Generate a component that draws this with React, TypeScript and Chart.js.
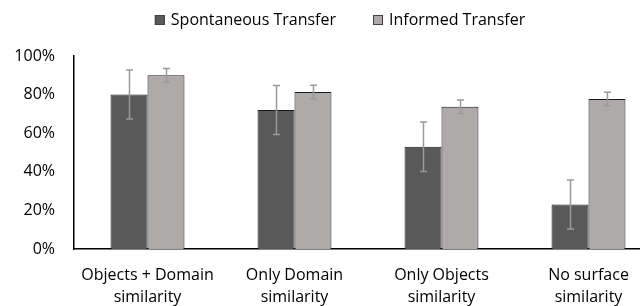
import React, { useEffect, useRef } from 'react';
import { Chart, registerables } from 'chart.js';

Chart.register(...registerables);

const categories: string[][] = [
  ['Objects + Domain', 'similarity'],
  ['Only Domain', 'similarity'],
  ['Only Objects', 'similarity'],
  ['No surface', 'similarity'],
];
const seriesNames = ['Spontaneous Transfer', 'Informed Transfer'];
const spontaneous = [80, 72, 53, 23];
const informed = [90, 81.3, 73.7, 77.7];
const spontaneousErr = [12.7, 12.7, 12.8, 12.7];
const informedErr = [3.5, 3.5, 3.5, 3.5];
const yMin = 0;
const yMax = 100;
const yStep = 20;

const FONT = '"Open Sans", sans-serif';
const DARK = '#595959';
const LIGHT = '#AEAAAA';

const errorBarPlugin = {
  id: 'errorBars',
  afterDatasetsDraw(chart: any) {
    const ctx = chart.ctx;
    const yScale = chart.scales.y;
    chart.data.datasets.forEach((ds: any, i: number) => {
      const meta = chart.getDatasetMeta(i);
      meta.data.forEach((bar: any, j: number) => {
        const v = ds.data[j];
        const e = ds.errors[j];
        const x = Math.round(bar.x) + 0.5;
        const yTop = yScale.getPixelForValue(v + e);
        const yBot = yScale.getPixelForValue(v - e);
        ctx.save();
        ctx.strokeStyle = '#9a9a9a';
        ctx.lineWidth = 1.5;
        ctx.beginPath();
        ctx.moveTo(x, yTop);
        ctx.lineTo(x, yBot);
        ctx.moveTo(x - 3.5, yTop);
        ctx.lineTo(x + 3.5, yTop);
        ctx.moveTo(x - 3.5, yBot);
        ctx.lineTo(x + 3.5, yBot);
        ctx.stroke();
        ctx.restore();
      });
    });
  },
};

const legendPlugin = {
  id: 'customLegend',
  afterDraw(chart: any) {
    const ctx = chart.ctx;
    ctx.save();
    ctx.font = '16px ' + FONT;
    ctx.textBaseline = 'middle';
    ctx.textAlign = 'left';
    const box = 10;
    const gapText = 6;
    const gapItem = 37;
    const items = chart.data.datasets.map((ds: any) => ({
      label: ds.label,
      fill: ds.backgroundColor,
      w: ctx.measureText(ds.label).width,
    }));
    const total = items.reduce((s: number, it: any) => s + box + gapText + it.w, 0) + gapItem * (items.length - 1);
    let x = chart.width / 2 - total / 2;
    const yc = 20;
    items.forEach((it: any) => {
      ctx.fillStyle = it.fill;
      ctx.fillRect(x, yc - box / 2, box, box);
      ctx.strokeStyle = '#404040';
      ctx.lineWidth = 1;
      ctx.strokeRect(x + 0.5, yc - box / 2 + 0.5, box - 1, box - 1);
      ctx.fillStyle = '#000';
      ctx.fillText(it.label, x + box + gapText, yc);
      x += box + gapText + it.w + gapItem;
    });
    ctx.restore();
  },
};

export default function App() {
  const ref = useRef<HTMLCanvasElement | null>(null);
  useEffect(() => {
    if (!ref.current) return;
    const chart = new Chart(ref.current, {
      type: 'bar',
      data: {
        labels: categories,
        datasets: [
          {
            label: seriesNames[0],
            data: spontaneous,
            errors: spontaneousErr,
            backgroundColor: DARK,
            borderColor: '#1a1a1a',
            borderWidth: 1,
          } as any,
          {
            label: seriesNames[1],
            data: informed,
            errors: informedErr,
            backgroundColor: LIGHT,
            borderColor: '#1a1a1a',
            borderWidth: 1,
          } as any,
        ],
      },
      options: {
        responsive: false,
        animation: false,
        devicePixelRatio: 1,
        layout: { padding: { left: 8, right: 18, top: 56, bottom: 0 } },
        datasets: { bar: { barPercentage: 1, categoryPercentage: 0.503 } },
        plugins: {
          legend: { display: false },
          tooltip: { enabled: false },
        },
        scales: {
          x: {
            grid: { display: false, drawTicks: false },
            border: { display: true, color: '#000', width: 1.5 },
            ticks: {
              color: '#000',
              font: { family: FONT, size: 16, lineHeight: 1.375 },
              padding: 15,
              maxRotation: 0,
              autoSkip: false,
            },
            afterFit(scale: any) {
              scale.height = 57;
            },
          },
          y: {
            min: yMin,
            max: yMax,
            grid: { display: false, drawTicks: false },
            border: { display: true, color: '#000', width: 1.5 },
            ticks: {
              stepSize: yStep,
              color: '#000',
              font: { family: FONT, size: 16 },
              padding: 19,
              callback: (v: any) => v + '%',
            },
            afterFit(scale: any) {
              scale.width = 66;
            },
          },
        },
      },
      plugins: [errorBarPlugin, legendPlugin],
    });
    return () => chart.destroy();
  }, []);

  return (
    <div style={{ position: 'absolute', left: 0, top: 0, width: 640, height: 306, overflow: 'hidden', background: '#fff' }}>
      <canvas ref={ref} width={680} height={306} style={{ width: 680, height: 306, display: 'block' }} />
    </div>
  );
}
